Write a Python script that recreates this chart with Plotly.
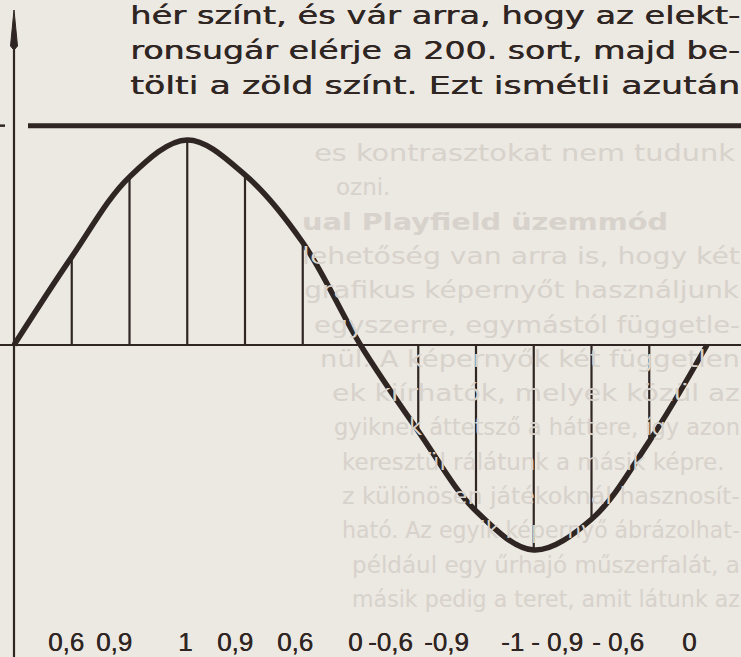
import json
import plotly.graph_objects as go

# ---------------- data ----------------
sample_idx = [0, 1, 2, 3, 4, 5, 6, 7, 8, 9, 10, 11, 12]
curve_vals = [0.0, 0.43, 0.82, 1.0, 0.83, 0.50, 0.0, -0.42, -0.81, -1.0, -0.85, -0.47, 0.0]
stem_idx = [1, 2, 3, 4, 5, 7, 8, 9, 10, 11]
sample_labels = ["0,6", "0,9", "1", "0,9", "0,6", "0", "-0,6", "-0,9", "-1", "- 0,9", "- 0,6", "0"]
level_value = 1.07

text_lines = [
    "hér színt, és vár arra, hogy az elekt-",
    "ronsugár elérje a 200. sort, majd be-",
    "tölti a zöld színt. Ezt ismétli azután",
]
bleed_lines = [
    "es kontrasztokat nem tudunk",
    "ozni.",
    "ual Playfield üzemmód",
    "lehetőség van arra is, hogy két",
    "grafikus képernyőt használjunk",
    "egyszerre, egymástól függetle-",
    "nül. A képernyők két független",
    "ek kiírhatók, melyek közül az",
    "gyiknek áttetsző a háttere, így azon",
    "keresztül rálátunk a másik képre.",
    "z különösen játékoknál hasznosít-",
    "ható. Az egyik képernyő ábrázolhat-",
    "például egy űrhajó műszerfalát, a",
    "másik pedig a teret, amit látunk az",
]
bleed_bold = [False, False, True] + [False] * 11
bleed_justified = [True, False, True, True, True, True, True, True, True, False, True, True, True, True]

# ---------------- layout (pixel geometry of the page) ----------------
W, H = 741, 657
X0_PX, STEP_PX = 14, 57.75      # x of the vertical axis, spacing of samples
Y0_PX, AMP_PX = 345, 205        # y of the zero line, pixels per unit

def px2x(px):
    return (px - X0_PX) / STEP_PX

def py2y(py):
    return (Y0_PX - py) / AMP_PX

XMIN, XMAX = px2x(0), px2x(W)
YMIN, YMAX = py2y(H), py2y(0)

INK = "#2f2623"
PAPER = "#ece8e2"
BLEED = "#d7d2cb"
SHADOW = "0.5px 0 0 " + INK
SHADOW_LBL = "0.4px 0 0 " + INK

label_left_px = [46, 94, 176, 215, 275, 346, 366, 422, 499, 529, 590, 680]
label_py = 642
text_left_px = 128
text_right_px = 738
text_py = [16, 51, 86]
bleed_left_px = [312, 334, 300, 300, 302, 312, 318, 330, 332, 340, 340, 340, 350, 350]
bleed_py0, bleed_dy = 153, 34.3

fig = go.Figure()

# sample stems
sx, sy = [], []
for i in stem_idx:
    sx += [sample_idx[i], sample_idx[i], None]
    sy += [0, curve_vals[i], None]
fig.add_trace(go.Scatter(x=sx, y=sy, mode="lines",
                         line=dict(color=INK, width=2.2), hoverinfo="skip"))

# the wave
fig.add_trace(go.Scatter(x=sample_idx, y=curve_vals, mode="lines",
                         line=dict(color=INK, width=5.5, shape="spline", smoothing=1.0),
                         hoverinfo="skip"))

shapes = []
# zero line
shapes.append(dict(type="line", x0=XMIN, x1=XMAX, y0=0, y1=0,
                   line=dict(color=INK, width=2.2), layer="below"))
# level line (thick)
shapes.append(dict(type="line", x0=px2x(28), x1=XMAX, y0=level_value, y1=level_value,
                   line=dict(color=INK, width=5), layer="below"))
# small dash left of axis
shapes.append(dict(type="line", x0=XMIN, x1=px2x(5), y0=level_value, y1=level_value,
                   line=dict(color=INK, width=2.5), layer="below"))
# vertical axis
shapes.append(dict(type="line", x0=0, x1=0, y0=YMIN, y1=py2y(30),
                   line=dict(color=INK, width=2.2), layer="below"))
# arrow head
hw = 3.5 / STEP_PX
tip, base = py2y(10), py2y(46)
shapes.append(dict(type="path",
                   path=f"M {-hw} {base} L 0 {tip} L {hw} {base} L 0 {base - 0.02} Z",
                   fillcolor=INK, line=dict(color=INK, width=1), layer="below"))

annotations = []
# faint show-through text of the next page (drawn first, underneath)
for k, (s, bx) in enumerate(zip(bleed_lines, bleed_left_px)):
    annotations.append(dict(x=px2x(bx), y=py2y(bleed_py0 + k * bleed_dy), text=s,
                            showarrow=False, xanchor="left", yanchor="middle",
                            font=dict(family="DejaVu Sans", size=23, color=BLEED,
                                      weight="bold" if bleed_bold[k] else "normal")))
for s, lx in zip(sample_labels, label_left_px):
    annotations.append(dict(x=px2x(lx), y=py2y(label_py), text=s, showarrow=False,
                            xanchor="left", yanchor="middle",
                            font=dict(family="Liberation Sans", size=26, color=INK,
                                      shadow=SHADOW_LBL)))
for s, ty in zip(text_lines, text_py):
    annotations.append(dict(x=px2x(text_left_px), y=py2y(ty), text=s, showarrow=False,
                            xanchor="left", yanchor="middle",
                            font=dict(family="DejaVu Sans", size=24, color=INK, shadow=SHADOW)))

fig.update_layout(
    width=W, height=H, margin=dict(l=0, r=0, t=0, b=0),
    paper_bgcolor=PAPER, plot_bgcolor=PAPER, showlegend=False,
    shapes=shapes, annotations=annotations,
    xaxis=dict(range=[XMIN, XMAX], visible=False, fixedrange=True),
    yaxis=dict(range=[YMIN, YMAX], visible=False, fixedrange=True),
)

# justified lines: stretch each to end at the right margin
fit_main = {s: text_right_px - text_left_px for s in text_lines}
fit_bleed = {}
for s, bx, j in zip(bleed_lines, bleed_left_px, bleed_justified):
    if j:
        fit_bleed[s] = text_right_px - bx

post = (
    "document.documentElement.style.margin='0';"
    "document.body.style.margin='0';document.body.style.overflow='hidden';"
    "var fitM=" + json.dumps(fit_main) + ";var fitB=" + json.dumps(fit_bleed) + ";"
    "document.querySelectorAll('text.annotation-text').forEach(function(t){"
    "var s=t.getAttribute('data-unformatted');var k=null;var b;"
    "if(fitM.hasOwnProperty(s)){b=t.getBBox();k=fitM[s]/b.width;}"
    "else if(fitB.hasOwnProperty(s)){b=t.getBBox();k=Math.max(0.9,Math.min(1.25,fitB[s]/b.width));}"
    "if(k!==null){t.setAttribute('transform','translate('+b.x+',0) scale('+k+',1) translate('+(-b.x)+',0)');}});"
)

fig.write_html("out.html", config={"displayModeBar": False, "responsive": False},
               post_script=post)
